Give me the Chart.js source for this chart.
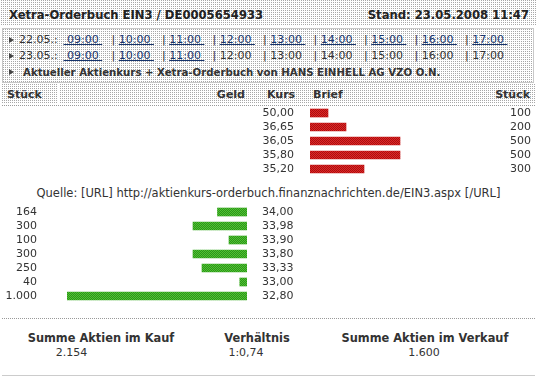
<!DOCTYPE html>
<html lang="de">
<head>
<meta charset="utf-8">
<script src="https://cdn.jsdelivr.net/npm/chart.js@4.4.0/dist/chart.umd.min.js"></script>
<style>
  html, body { margin: 0; padding: 0; background: #fff; }
  body {
    width: 537px; height: 378px; position: relative; overflow: hidden;
    font-family: 'DejaVu Sans', Verdana, sans-serif; font-size: 11px; color: #333;
  }
  .abs { position: absolute; white-space: pre; line-height: 14px; }
  .dots {
    position: absolute;
    background-color: #fff;
    background-image: linear-gradient(90deg, transparent 1px, #fff 1px),
                      linear-gradient(#a8a8a8 1px, transparent 1px);
    background-size: 2px 2px;
  }
  .b { font-weight: bold; }
  .arrow {
    position: absolute; width: 0; height: 0;
    border-left: 5px solid #444;
    border-top: 3.5px solid transparent; border-bottom: 3.5px solid transparent;
  }
  a { color: #17346c; text-decoration: underline; }
  .hline { position: absolute; left: 2px; width: 533px; height: 1px; }
  .dotted { background: repeating-linear-gradient(90deg, #999 0 1px, transparent 1px 2px); }
  canvas { position: absolute; left: 0; }
</style>
</head>
<body>
  <!-- title band -->
  <div class="dots" style="left:1px; top:0; width:535px; height:26px;"></div>
  <div class="abs b" style="left:9px; top:8px; font-size:11.6px; color:#222;">Xetra-Orderbuch EIN3 / DE0005654933</div>
  <div class="abs b" style="right:8px; top:8px; font-size:11.6px; color:#222;">Stand: 23.05.2008 11:47</div>

  <!-- time links box -->
  <div class="dots" style="left:2px; top:28px; width:530px; height:53px; border:1px solid #c8c8c8;"></div>
  <div id="times"></div>
  <span class="arrow" style="left:9px; top:69px;"></span>
  <div class="abs b" style="left:23px; top:66px; font-size:10.2px;">Aktueller Aktienkurs + Xetra-Orderbuch von HANS EINHELL AG VZO O.N.</div>

  <!-- column headers -->
  <div class="dots" style="left:2px; top:84px; width:56px; height:20px;"></div>
  <div class="dots" style="left:60px; top:84px; width:475px; height:20px;"></div>
  <div class="hline dotted" style="top:105px;"></div>
  <div class="abs b" style="left:7px; top:88px;">Stück</div>
  <div class="abs b" style="right:292px; top:88px;">Geld</div>
  <div class="abs b" style="left:267px; top:88px;">Kurs</div>
  <div class="abs b" style="left:313px; top:88px;">Brief</div>
  <div class="abs b" style="right:7px; top:88px;">Stück</div>

  <canvas id="sell" width="537" height="70" style="top:106px;"></canvas>
  <div class="abs" style="left:0; width:537px; text-align:center; top:186px; font-size:11.5px;">Quelle: [URL] http://aktienkurs-orderbuch.finanznachrichten.de/EIN3.aspx [/URL]</div>
  <canvas id="buy" width="537" height="98" style="top:205px;"></canvas>

  <!-- totals -->
  <div class="hline dotted" style="top:318px;"></div>
  <div class="abs b" style="left:0; width:202px; text-align:center; top:331px; font-size:11.4px;">Summe Aktien im Kauf</div>
  <div class="abs b" style="left:157px; width:200px; text-align:center; top:331px; font-size:11.4px;">Verhältnis</div>
  <div class="abs b" style="left:325px; width:200px; text-align:center; top:331px; font-size:11.4px;">Summe Aktien im Verkauf</div>
  <div id="sumBuy" class="abs" style="left:0; width:143px; text-align:center; top:346px;"></div>
  <div id="ratio" class="abs" style="left:146px; width:200px; text-align:center; top:346px;"></div>
  <div id="sumSell" class="abs" style="left:324px; width:200px; text-align:center; top:346px;"></div>
  <div class="hline" style="top:375px; background:#ccc;"></div>

<script>
const sellPrices = [50.00, 36.65, 36.05, 35.80, 35.20];
const sellQty = [100, 200, 500, 500, 300];
const buyPrices = [34.00, 33.98, 33.90, 33.80, 33.33, 33.00, 32.80];
const buyQty = [164, 300, 100, 300, 250, 40, 1000];

const times = ['09:00', '10:00', '11:00', '12:00', '13:00', '14:00', '15:00', '16:00', '17:00'];
const days = ['22.05.:', '23.05.:'];
const linkedSlots = [9, 3];

const fmtPrice = (v) => v.toFixed(2).replace('.', ',');
const fmtQty = (v) => String(v).replace(/\B(?=(\d{3})+(?!\d))/g, '.');
const font = { family: 'DejaVu Sans', size: 11 };

// time link rows
const timesBox = document.getElementById('times');
days.forEach((day, r) => {
  const top = 33 + r * 16;
  let html = `<span class="arrow" style="left:9px; top:${top + 3.5}px;"></span>`;
  html += `<div class="abs" style="left:19px; top:${top}px;">${day}</div>`;
  times.forEach((t, i) => {
    const label = i === 0 ? `\u00a0${t}\u00a0` : `${t}\u00a0`;
    const txt = i < linkedSlots[r] ? `<a>${label}</a>` : label;
    const left = i ? 57.5 + 50.5 * i : 63.5;
    html += `<div class="abs" style="left:${left}px; top:${top}px;">${i ? ' | ' : ''}${txt}</div>`;
  });
  timesBox.insertAdjacentHTML('beforeend', html);
});

// totals
const totalBuy = buyQty.reduce((a, b) => a + b, 0);
const totalSell = sellQty.reduce((a, b) => a + b, 0);
document.getElementById('sumBuy').textContent = fmtQty(totalBuy);
document.getElementById('sumSell').textContent = fmtQty(totalSell);
document.getElementById('ratio').textContent = '1:' + (totalSell / totalBuy).toFixed(2).replace('.', ',');

function dither(ctx, c1, c2) {
  const p = document.createElement('canvas');
  p.width = 2; p.height = 2;
  const g = p.getContext('2d');
  g.fillStyle = c1; g.fillRect(0, 0, 2, 2);
  g.fillStyle = c2; g.fillRect(0, 0, 1, 1); g.fillRect(1, 1, 1, 1);
  return ctx.createPattern(p, 'repeat');
}

// fix axis width and drop the label padding chart.js adds above/below
const fixedWidth = (w) => (scale) => {
  scale.width = w;
  scale.paddingTop = 0;
  scale.paddingBottom = 0;
};

function sideAxis(extra) {
  return Object.assign({
    grid: { display: false, drawTicks: false },
    border: { display: false },
  }, extra, {
    ticks: Object.assign({ autoSkip: false, color: '#333', font }, extra.ticks),
  });
}

function renderBook(canvas, prices, qty, colors, buySide) {
  const ctx = canvas.getContext('2d');
  const priceAxis = buySide
    ? { position: 'right', ticks: { padding: 15, crossAlign: 'near' }, afterFit: fixedWidth(290) }
    : { position: 'left', ticks: { padding: 16 }, afterFit: fixedWidth(310) };
  const qtyAxis = buySide
    ? { position: 'left', ticks: { padding: 30 }, afterFit: fixedWidth(67) }
    : { position: 'right', ticks: { padding: 20, crossAlign: 'near' }, afterFit: fixedWidth(47) };

  new Chart(canvas, {
    type: 'bar',
    data: {
      labels: prices.map(fmtPrice),
      datasets: [{
        data: qty,
        backgroundColor: dither(ctx, colors[0], colors[1]),
        borderWidth: 0,
        barThickness: 8,
      }],
    },
    options: {
      indexAxis: 'y',
      responsive: false,
      animation: false,
      events: [],
      layout: { padding: 0 },
      plugins: { legend: { display: false }, tooltip: { enabled: false } },
      scales: {
        x: { display: false, min: 0, max: 1000, reverse: buySide },
        y: sideAxis(priceAxis),
        qty: sideAxis(Object.assign({
          axis: 'y',
          type: 'category',
          labels: qty.map(fmtQty),
          offset: true,
        }, qtyAxis)),
      },
    },
  });
}

renderBook(document.getElementById('sell'), sellPrices, sellQty, ['#e02626', '#a81010'], false);
renderBook(document.getElementById('buy'), buyPrices, buyQty, ['#52c330', '#2a931c'], true);
</script>
</body>
</html>
